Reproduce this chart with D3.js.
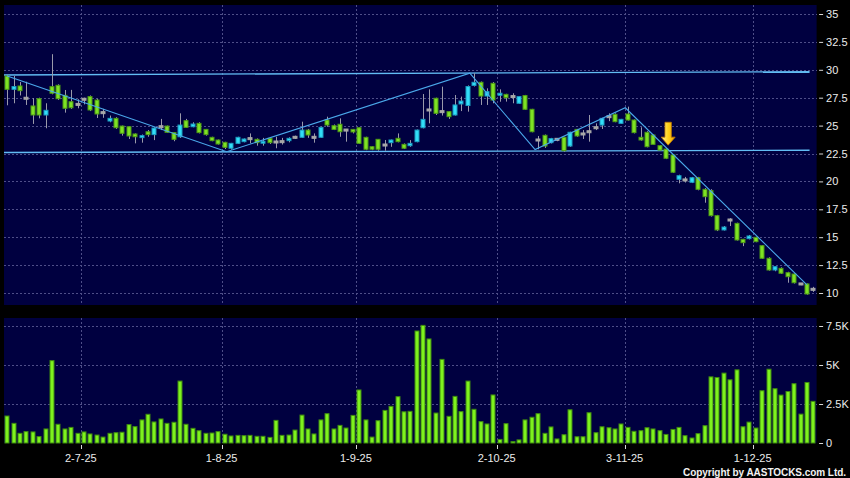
<!DOCTYPE html>
<html><head><meta charset="utf-8">
<script src="https://cdn.jsdelivr.net/npm/d3@7/dist/d3.min.js"></script>
<style>body{margin:0;background:#000}svg{display:block}</style>
</head><body><svg id="c" width="850" height="478"></svg>
<script>
// ---------- DATA ----------
const dates = [
"13-6-25","16-6-25","17-6-25","18-6-25","19-6-25","20-6-25","23-6-25","24-6-25","25-6-25","26-6-25","27-6-25","30-6-25",
"2-7-25","3-7-25","4-7-25","7-7-25","8-7-25","9-7-25","10-7-25","11-7-25","14-7-25","15-7-25","16-7-25","17-7-25","18-7-25","21-7-25","22-7-25","23-7-25","24-7-25","25-7-25","28-7-25","29-7-25","30-7-25","31-7-25",
"1-8-25","4-8-25","5-8-25","6-8-25","7-8-25","8-8-25","11-8-25","12-8-25","13-8-25","14-8-25","15-8-25","18-8-25","19-8-25","20-8-25","21-8-25","22-8-25","25-8-25","26-8-25","27-8-25","28-8-25","29-8-25",
"1-9-25","2-9-25","3-9-25","4-9-25","5-9-25","8-9-25","9-9-25","10-9-25","11-9-25","12-9-25","15-9-25","16-9-25","17-9-25","18-9-25","19-9-25","22-9-25","23-9-25","24-9-25","25-9-25","26-9-25","29-9-25","30-9-25",
"2-10-25","3-10-25","6-10-25","8-10-25","9-10-25","10-10-25","13-10-25","14-10-25","15-10-25","16-10-25","17-10-25","20-10-25","21-10-25","22-10-25","23-10-25","24-10-25","27-10-25","28-10-25","30-10-25","31-10-25",
"3-11-25","4-11-25","5-11-25","6-11-25","7-11-25","10-11-25","11-11-25","12-11-25","13-11-25","14-11-25","17-11-25","18-11-25","19-11-25","20-11-25","21-11-25","24-11-25","25-11-25","26-11-25","27-11-25","28-11-25",
"1-12-25","2-12-25","3-12-25","4-12-25","5-12-25","8-12-25","9-12-25","10-12-25","11-12-25","12-12-25"];

const open = [29.44,28.25,28.55,27.45,26.76,27.41,25.95,28.49,28.61,27.71,
27.14,26.9,27.36,27.6,27.29,26.16,25.41,25.65,24.96,24.9,
24.25,24.0,24.45,24.19,24.9,24.96,24.37,24.0,25.44,24.9,
25.2,24.66,23.95,23.71,23.5,22.97,23.41,23.56,23.83,23.77,
23.5,23.86,23.53,23.56,23.65,23.95,23.95,24.6,23.95,23.95,
25.5,24.99,25.12,24.6,24.66,24.81,23.95,23.11,23.77,23.26,
23.47,23.86,23.32,23.2,23.56,24.81,26.4,27.45,26.25,26.25,
25.95,26.94,26.8,28.6,28.88,27.65,28.79,27.74,27.8,27.6,
27.0,27.69,26.46,23.71,24.13,23.47,23.77,23.95,23.17,24.66,
24.25,24.45,24.81,25.05,25.8,26.01,25.2,26.04,25.5,23.95,
24.4,24.16,23.2,22.9,22.37,20.19,20.13,19.92,20.33,19.29,
19.17,16.93,15.65,16.54,16.24,14.81,14.87,14.99,14.24,13.11,
12.06,12.21,11.82,11.7,10.81,10.81,10.33];
const high = [29.55,29.45,28.9,28.93,27.45,27.5,27.0,31.4,28.7,28.19,
28.2,27.36,27.5,27.7,27.4,26.5,25.9,25.75,25.0,24.95,
24.3,24.2,24.6,24.85,25.6,25.0,24.4,26.1,25.6,25.3,
25.3,24.7,24.0,23.75,23.55,23.45,24.0,23.85,24.3,23.85,
23.9,23.9,24.0,23.9,23.95,24.1,25.35,24.7,24.3,24.9,
25.8,25.1,25.65,24.7,24.7,24.85,24.0,23.15,23.8,23.71,
23.75,24.3,23.4,23.7,24.65,27.83,28.25,27.5,28.49,26.3,
27.74,27.6,28.6,29.69,28.95,28.34,28.9,28.25,27.85,27.9,
27.65,27.75,26.5,24.07,24.2,23.9,23.85,24.0,24.45,24.7,
24.6,25.95,25.2,25.7,26.1,26.1,25.6,26.7,25.55,24.85,
24.5,24.2,23.25,22.95,22.4,20.6,20.4,20.4,20.4,19.4,
19.3,17.0,16.0,16.7,16.3,14.85,15.2,15.05,14.3,13.2,
12.4,12.3,11.9,11.75,10.9,10.85,10.55];
const low = [26.82,27.0,27.7,26.85,25.15,25.65,24.76,27.8,27.3,26.16,
26.5,26.55,26.9,26.3,25.68,25.7,25.3,24.7,24.1,23.8,
23.41,23.47,24.0,23.7,24.6,24.35,23.6,23.9,24.8,24.85,
24.3,24.1,23.6,23.3,22.9,22.85,23.35,23.5,23.41,23.2,
23.2,23.35,22.97,23.3,23.5,23.8,23.9,23.9,23.47,23.9,
24.9,24.6,24.0,23.56,24.3,23.35,22.8,22.8,22.75,22.75,
23.1,23.5,22.9,23.1,23.5,24.75,25.2,25.95,25.9,25.6,
25.9,26.3,26.25,28.5,26.85,26.85,27.0,27.14,27.15,27.0,
26.95,26.4,24.4,22.88,23.0,23.4,23.6,22.65,23.1,24.0,
23.8,23.56,24.6,24.7,25.4,25.3,25.15,25.45,24.3,23.65,
23.05,23.3,22.75,22.0,20.75,19.83,19.9,19.85,19.2,18.09,
16.85,15.55,15.6,16.0,14.7,14.2,14.8,14.55,13.05,12.0,
11.95,11.7,10.92,10.85,10.7,9.85,10.1];
const close = [28.25,28.5,28.13,27.45,25.95,25.95,26.37,27.9,27.41,26.55,
26.6,26.9,27.36,26.4,26.04,26.16,25.65,24.81,24.31,24.07,
24.0,24.1,24.19,24.78,24.9,24.4,23.77,25.05,24.84,25.14,
24.37,24.19,23.65,23.35,23.05,23.41,23.95,23.8,23.83,23.47,
23.6,23.47,23.53,23.56,23.86,23.95,24.6,24.16,23.95,24.84,
25.05,24.66,24.45,24.6,24.43,23.41,22.88,22.88,22.88,23.26,
23.71,23.56,22.97,23.41,24.6,25.56,26.4,26.1,26.25,25.8,
26.85,27.2,28.5,28.88,27.65,28.04,27.29,27.9,27.5,27.6,
27.6,26.46,24.45,23.71,23.17,23.83,23.77,22.75,24.4,24.07,
24.25,24.45,24.81,25.65,25.8,25.35,25.56,25.5,24.37,23.71,
23.11,23.32,22.81,22.07,20.82,20.51,20.13,20.33,19.29,18.63,
16.93,15.65,15.91,16.54,14.75,14.51,15.11,14.6,13.11,12.06,
12.36,11.77,11.46,10.92,10.81,9.91,10.33];
// volume in thousands
const volume = [1.73,1.26,0.62,0.73,0.71,0.41,0.9,5.28,1.2,0.9,
1.0,0.62,0.71,0.58,0.51,0.38,0.62,0.66,0.69,1.18,
1.05,1.48,1.84,1.35,1.54,1.26,1.33,3.97,1.2,0.94,
0.79,0.62,0.64,0.73,0.56,0.45,0.49,0.47,0.49,0.43,
0.43,0.36,1.45,0.49,0.51,0.83,1.79,0.9,0.58,1.48,
1.88,0.9,1.13,0.96,1.77,3.4,1.48,0.38,1.43,2.09,
2.35,2.97,2.0,2.03,7.18,7.54,6.67,1.92,5.36,1.71,
2.99,2.01,3.97,2.16,1.37,1.22,3.08,0.23,1.24,0.09,
0.2,1.48,1.65,1.88,0.62,1.03,0.26,0.53,2.13,0.4,
0.4,1.94,0.66,1.04,0.98,0.9,1.22,1.0,0.75,0.79,
0.98,0.9,0.79,0.55,0.87,1.0,0.47,0.32,0.6,1.11,
4.24,4.2,4.48,4.05,4.69,1.04,1.34,0.96,3.35,4.73,
3.48,3.07,3.3,3.8,1.85,3.88,2.67];

const monthTicks = ["2-7-25","1-8-25","1-9-25","2-10-25","3-11-25","1-12-25"];
const priceTicks = [10,12.5,15,17.5,20,22.5,25,27.5,30,32.5,35];
const volTicks = [0,2.5,5,7.5];
const volTickLabels = ["0","2.5K","5K","7.5K"];

// trend lines (candle index, price)
const trendIdx = [0, 34.3, 72.3, 82.5, 96.6, 125];
const trendPrice = [29.45, 22.66, 29.69, 22.85, 26.6, 10.72];
const resistIdx = [-0.5, 125.4], resistPrice = [29.54, 29.83];
const supportIdx = [-0.5, 125.4], supportPrice = [22.59, 22.79];
const arrowIdx = 103.3, arrowTop = 25.3, arrowTip = 23.25;

// ---------- CHART ----------
const svg = d3.select("#c");
const W = 850, H = 478;
svg.append("rect").attr("width", W).attr("height", H).attr("fill", "#000");

const L = 4, R = 816.6;
const pTop = 5, pBot = 305, vTop = 318, vBot = 443;
const x = d3.scaleBand().domain(dates).range([L, R]).padding(0);
const xi = d3.scaleLinear().domain([-0.5, dates.length - 0.5]).range([L, R]);
const cx = i => x(dates[i]) + x.bandwidth() / 2;
const y = d3.scaleLinear().domain([10, 35]).range([293, 14]);
const yv = d3.scaleLinear().domain([0, 7.5]).range([443, 326]);

const bg = "#000040", gridC = "#4e4e88";
svg.append("rect").attr("x", L).attr("y", pTop).attr("width", R - L).attr("height", pBot - pTop).attr("fill", bg);
svg.append("rect").attr("x", L).attr("y", vTop).attr("width", R - L).attr("height", vBot - vTop).attr("fill", bg);

const grid = svg.append("g").attr("stroke", gridC).attr("stroke-dasharray", "2,2").attr("stroke-width", 1).attr("shape-rendering", "crispEdges");
grid.selectAll("line.hp").data(priceTicks).join("line").attr("class", "hp")
  .attr("x1", L).attr("x2", R).attr("y1", d => Math.round(y(d)) + 0.5).attr("y2", d => Math.round(y(d)) + 0.5);
grid.selectAll("line.hv").data(volTicks.filter(d => d > 0)).join("line").attr("class", "hv")
  .attr("x1", L).attr("x2", R).attr("y1", d => Math.round(yv(d)) + 0.5).attr("y2", d => Math.round(yv(d)) + 0.5);
grid.selectAll("line.vp").data(monthTicks).join("line").attr("class", "vp")
  .attr("x1", d => Math.round(x(d)) + 0.5).attr("x2", d => Math.round(x(d)) + 0.5).attr("y1", pTop).attr("y2", pBot);
grid.selectAll("line.vv").data(monthTicks).join("line").attr("class", "vv")
  .attr("x1", d => Math.round(x(d)) + 0.5).attr("x2", d => Math.round(x(d)) + 0.5).attr("y1", vTop).attr("y2", vBot);

// support / resistance
const lineGen = d3.line().x(d => xi(d[0])).y(d => y(d[1]));
svg.append("path").datum(resistIdx.map((d, k) => [d, resistPrice[k]])).attr("d", lineGen)
  .attr("stroke", "#62bcf4").attr("stroke-width", 1.4).attr("fill", "none");
svg.append("path").datum(supportIdx.map((d, k) => [d, supportPrice[k]])).attr("d", lineGen)
  .attr("stroke", "#62bcf4").attr("stroke-width", 1.4).attr("fill", "none");

// candles
const idx = d3.range(dates.length);
const colFill = i => close[i] > open[i] ? "#32def8" : (close[i] < open[i] ? "#7ee224" : "#a8a8a8");
const colStroke = i => close[i] > open[i] ? "#1a9cc0" : (close[i] < open[i] ? "#4d9a14" : "#a8a8a8");
const cg = svg.append("g");
cg.selectAll("line.wick").data(idx).join("line").attr("class", "wick")
  .attr("x1", i => Math.round(cx(i)) + 0.5).attr("x2", i => Math.round(cx(i)) + 0.5)
  .attr("y1", i => y(high[i])).attr("y2", i => y(low[i]))
  .attr("stroke", "#9a9aaa").attr("stroke-width", 1);
const bw = 5;
cg.selectAll("rect.body").data(idx).join("rect").attr("class", "body")
  .attr("x", i => Math.round(cx(i)) - 2)
  .attr("width", bw - 1)
  .attr("y", i => close[i] === open[i] ? y(open[i]) - 1 : Math.min(y(open[i]), y(close[i])))
  .attr("height", i => close[i] === open[i] ? 2 : Math.max(2, Math.abs(y(open[i]) - y(close[i]))))
  .attr("fill", colFill).attr("stroke", colStroke).attr("stroke-width", 1);

// trend line
svg.append("path").datum(trendIdx.map((d, k) => [d, trendPrice[k]])).attr("d", lineGen)
  .attr("stroke", "#4aa8ea").attr("stroke-width", 1.1).attr("fill", "none");

// arrow
const defs = svg.append("defs");
const gr = defs.append("linearGradient").attr("id", "ag").attr("x1", "0").attr("x2", "1").attr("y1", "0").attr("y2", "0");
gr.append("stop").attr("offset", "0").attr("stop-color", "#fff3a0");
gr.append("stop").attr("offset", "0.5").attr("stop-color", "#ffd21a");
gr.append("stop").attr("offset", "1").attr("stop-color", "#f0a000");
const ax = xi(arrowIdx), at = y(arrowTop), ab = y(arrowTip);
const hh = 8, sw = 3.2, hw = 7;
svg.append("path")
  .attr("d", `M${ax - sw},${at} L${ax + sw},${at} L${ax + sw},${ab - hh} L${ax + hw},${ab - hh} L${ax},${ab} L${ax - hw},${ab - hh} L${ax - sw},${ab - hh} Z`)
  .attr("fill", "url(#ag)").attr("stroke", "#c07800").attr("stroke-width", 0.8);

// volume bars
svg.append("g").selectAll("rect").data(idx).join("rect")
  .attr("x", i => Math.round(cx(i)) - 2).attr("width", bw - 1)
  .attr("y", i => yv(volume[i])).attr("height", i => yv(0) - yv(volume[i]))
  .attr("fill", "#7ef21e").attr("stroke", "#3f8a10").attr("stroke-width", 1);

// right axes
const axStyle = g => {
  g.select(".domain").remove();
  g.selectAll(".tick line").attr("stroke", "#d8d8d8");
  g.selectAll(".tick text").attr("fill", "#ececec").attr("font-family", "Arial, 'Liberation Sans', sans-serif").attr("font-size", "11px");
};
svg.append("g").attr("transform", `translate(${R + 2.5},0)`)
  .call(d3.axisRight(y).tickValues(priceTicks).tickSize(4).tickPadding(3).tickFormat(d => String(d)))
  .call(axStyle);
svg.append("g").attr("transform", `translate(${R + 2.5},0)`)
  .call(d3.axisRight(yv).tickValues(volTicks).tickSize(4).tickPadding(3).tickFormat((d, k) => volTickLabels[k]))
  .call(axStyle);

// bottom axis
const bx = svg.append("g");
bx.selectAll("line").data(monthTicks).join("line")
  .attr("x1", d => Math.round(x(d)) + 0.5).attr("x2", d => Math.round(x(d)) + 0.5)
  .attr("y1", vBot + 2).attr("y2", vBot + 6).attr("stroke", "#d8d8d8");
bx.selectAll("text").data(monthTicks).join("text")
  .attr("x", d => x(d)).attr("y", vBot + 19).attr("text-anchor", "middle")
  .attr("fill", "#ececec").attr("font-family", "Arial, 'Liberation Sans', sans-serif").attr("font-size", "11px")
  .text(d => d);

svg.append("text").attr("x", 846).attr("y", 476).attr("text-anchor", "end")
  .attr("fill", "#f2f2f2").attr("font-family", "Arial, 'Liberation Sans', sans-serif")
  .attr("font-size", "10px").attr("font-weight", "bold")
  .attr("textLength", 163).attr("lengthAdjust", "spacing")
  .text("Copyright by AASTOCKS.com Ltd.");
</script></body></html>
